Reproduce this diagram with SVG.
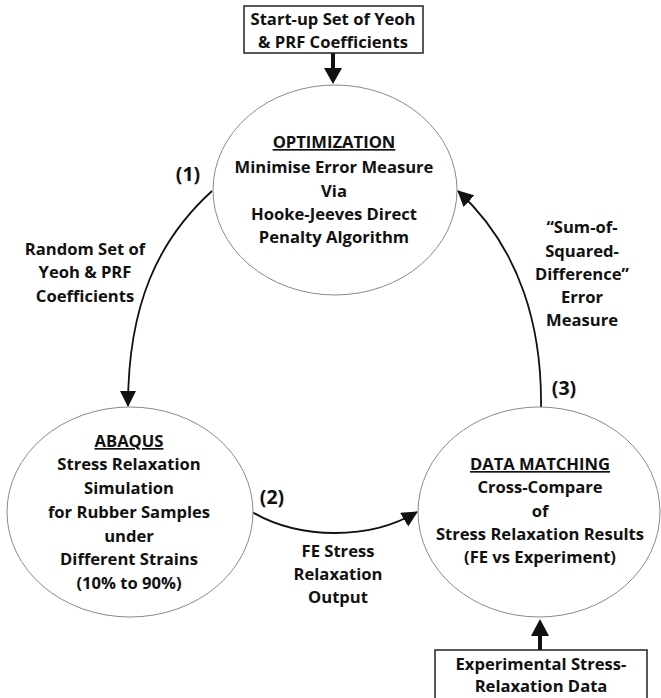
<svg xmlns="http://www.w3.org/2000/svg" width="661" height="698" viewBox="0 0 661 698">
<style>
.t{font-family:"Open Sans","Noto Sans","Liberation Sans",sans-serif;font-weight:bold;font-size:16.6px;fill:#111;text-anchor:middle}
.n{font-size:19.5px}
.u{text-decoration:underline}
.node{fill:#fff;stroke:#8a8a8a;stroke-width:1}
.box{fill:#fff;stroke:#222;stroke-width:1.5}
.c{fill:none;stroke:#111;stroke-width:1.8}
.thick{fill:none;stroke:#111;stroke-width:4}
</style>
<defs>
<marker id="ah" viewBox="0 0 16 16" refX="15" refY="8" markerWidth="16" markerHeight="16" markerUnits="userSpaceOnUse" orient="auto">
<path d="M0,0 L16,8 L0,16 Z" fill="#111"/>
</marker>
</defs>
<rect width="661" height="698" fill="#fff"/>
<g id="connectors">
<line class="thick" x1="333" y1="53" x2="333" y2="70"/>
<path d="M324,68 L342,68 L333,84 Z" fill="#111"/>
<line class="thick" x1="540" y1="650" x2="540" y2="634"/>
<path d="M531,636 L549,636 L540,619 Z" fill="#111"/>
<path class="c" d="M212,191 C158,240 128,305 128,406" marker-end="url(#ah)"/>
<path class="c" d="M252,512 C300,540 370,540 417,512" marker-end="url(#ah)"/>
<path class="c" d="M541,407 C542,330 522,250 458,191" marker-end="url(#ah)"/>
<text class="t n" x="188" y="181">(1)</text>
<text class="t" x="85" y="255">Random Set of</text>
<text class="t" x="85" y="278">Yeoh &amp; PRF</text>
<text class="t" x="85" y="302">Coefficients</text>
<text class="t n" x="272" y="504">(2)</text>
<text class="t" x="338" y="557">FE Stress</text>
<text class="t" x="338" y="580">Relaxation</text>
<text class="t" x="338" y="603">Output</text>
<text class="t n" x="564" y="395">(3)</text>
<text class="t" x="582" y="233">“Sum-of-</text>
<text class="t" x="582" y="257">Squared-</text>
<text class="t" x="582" y="280">Difference”</text>
<text class="t" x="582" y="303">Error</text>
<text class="t" x="582" y="326">Measure</text>
</g>
<g id="start">
<rect class="box" x="244" y="6" width="179" height="47"/>
<text class="t" x="333" y="25">Start-up Set of Yeoh</text>
<text class="t" x="333" y="48">&amp; PRF Coefficients</text>
</g>
<g id="optimization">
<ellipse class="node" cx="335" cy="190" rx="122" ry="105"/>
<text class="t u" x="334" y="148">OPTIMIZATION</text>
<text class="t" x="334" y="173">Minimise Error Measure</text>
<text class="t" x="334" y="197">Via</text>
<text class="t" x="334" y="220">Hooke-Jeeves Direct</text>
<text class="t" x="334" y="243">Penalty Algorithm</text>
</g>
<g id="abaqus">
<ellipse class="node" cx="130" cy="512" rx="123" ry="105"/>
<text class="t u" x="129" y="447">ABAQUS</text>
<text class="t" x="129" y="470">Stress Relaxation</text>
<text class="t" x="129" y="494">Simulation</text>
<text class="t" x="129" y="518">for Rubber Samples</text>
<text class="t" x="129" y="542">under</text>
<text class="t" x="129" y="565">Different Strains</text>
<text class="t" x="129" y="589">(10% to 90%)</text>
</g>
<g id="datamatching">
<ellipse class="node" cx="539" cy="512" rx="121" ry="105"/>
<text class="t u" x="540" y="470">DATA MATCHING</text>
<text class="t" x="540" y="493">Cross-Compare</text>
<text class="t" x="540" y="517">of</text>
<text class="t" x="540" y="540">Stress Relaxation Results</text>
<text class="t" x="540" y="563">(FE vs Experiment)</text>
</g>
<g id="experimental">
<rect class="box" x="435" y="650" width="212" height="52"/>
<text class="t" x="541" y="670">Experimental Stress-</text>
<text class="t" x="541" y="692">Relaxation Data</text>
</g>
</svg>
